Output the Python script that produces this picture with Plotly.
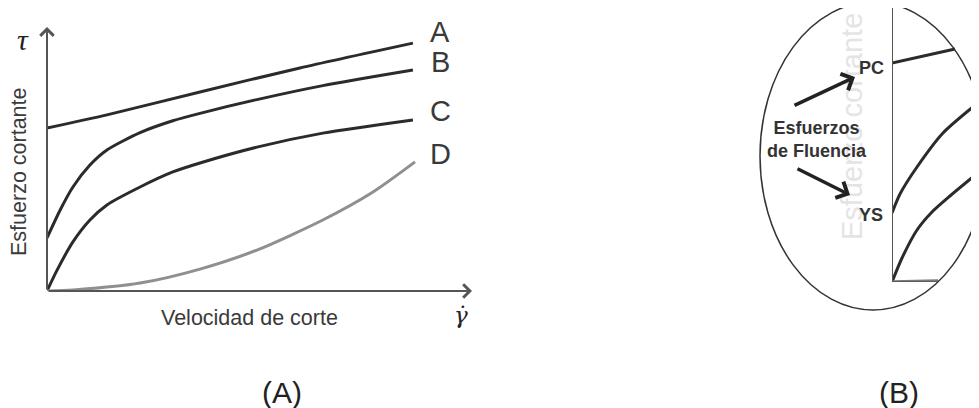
import plotly.graph_objects as go

# ---- panel (A): flow curves, shear rate vs shear stress (arbitrary units 0-100)
names = ['A', 'B', 'C', 'D']

a_x = [0, 14.1, 36, 59.5, 86.1]
a_y = [61.7, 66.7, 75.4, 84.5, 93.9]

b_x = [0, 3.1, 6.1, 10.1, 14.1, 21.9, 29.6, 36, 49.4, 64.9, 86.1]
b_y = [20.1, 30.7, 39.4, 47.7, 53.4, 60.0, 64.5, 67.3, 72.5, 77.8, 83.7]

c_x = [0, 2.4, 6.1, 10.1, 14.1, 21.9, 29.6, 36, 49.4, 64.9, 86.1]
c_y = [0, 8.0, 18.6, 26.9, 32.6, 39.4, 45.1, 48.5, 54.5, 59.8, 64.8]

d_x = [0, 6.1, 21.9, 36, 49.4, 64.9, 76.7, 86.6]
d_y = [0, 0.4, 3.0, 8.3, 15.5, 26.9, 37.5, 48.9]

# ---- panel (B): zoom near the origin
pc_x = [0, 63]
pc_y = [219, 233]
ys_x = [0, 8, 25, 51, 87]
ys_y = [69, 88, 115, 149, 180]
low_x = [0, 10, 25, 40, 58, 87]
low_y = [0, 24, 52, 70, 86, 110]
flat_x = [0, 46]
flat_y = [0, 1]

OFF = 8                      # page body margin
W, H = 979 - OFF, 408 - OFF
DARK = '#2b2b2b'
GREY = '#8f8f8f'
AXIS = '#555555'
TXT = '#3a3a3a'
SANS = 'Liberation Sans, Arial, sans-serif'
SERIF = 'Liberation Serif, Times New Roman, serif'


def px_x(p):
    return (p - OFF) / W


def px_y(p):
    return 1 - (p - OFF) / H


def label(px, py, text, size, color=TXT, family=SANS, angle=0):
    return dict(x=px_x(px), y=px_y(py), xref='paper', yref='paper', text=text,
                showarrow=False, xanchor='center', yanchor='middle', textangle=angle,
                font=dict(family=family, size=size, color=color))


fig = go.Figure()

main = [(a_x, a_y, DARK), (b_x, b_y, DARK), (c_x, c_y, DARK), (d_x, d_y, GREY)]
for (xs, ys, col), nm in zip(main, names):
    fig.add_trace(go.Scatter(x=xs, y=ys, mode='lines', name=nm,
                             line=dict(color=col, width=3, shape='spline', smoothing=0.7),
                             xaxis='x', yaxis='y', cliponaxis=False))

inset = [(pc_x, pc_y, DARK, 3), (ys_x, ys_y, DARK, 3), (low_x, low_y, DARK, 3),
         (flat_x, flat_y, '#7a7a7a', 3.5)]
for xs, ys, col, w in inset:
    fig.add_trace(go.Scatter(x=xs, y=ys, mode='lines',
                             line=dict(color=col, width=w, shape='spline', smoothing=0.7),
                             xaxis='x2', yaxis='y2', cliponaxis=False))

ann = []
# axes with arrows for panel (A)
for tx, ty in [(100, 0), (0, 100)]:
    ann.append(dict(x=tx, y=ty, ax=0, ay=0, xref='x', yref='y', axref='x', ayref='y',
                    text='', showarrow=True, arrowhead=4, arrowsize=1.3, arrowwidth=2,
                    arrowcolor=AXIS, standoff=0))

# curve letters
for nm, py in zip(names, [32, 62, 111, 154]):
    ann.append(label(440, py, nm, 29))

ann.append(label(23, 40, '<i>τ</i>', 30, '#222', SERIF))
ann.append(label(461, 315, '<i>γ̇</i>', 23, '#222', 'DejaVu Serif, serif'))
ann.append(label(19, 172, 'Esfuerzo cortante', 21.5, angle=-90))
ann.append(label(249, 318, 'Velocidad de corte', 21.5))
ann.append(label(282, 392, '(A)', 30, '#222'))
ann.append(label(899, 392, '(B)', 30, '#222'))

# panel (B) texts
ann.append(label(852, 127, 'Esfuerzo cortante', 29, '#e4e4e4', angle=-90))
ann.append(label(871, 68, '<b>PC</b>', 18, '#333'))
ann.append(label(871, 215, '<b>YS</b>', 18, '#333'))
ann.append(label(817, 139, '<b>Esfuerzos<br>de Fluencia</b>', 18, '#333'))
ann.append(dict(x=px_x(855), y=px_y(77), xref='paper', yref='paper', ax=-62, ay=29,
                text='', showarrow=True, arrowhead=4, arrowsize=1, arrowwidth=3.5,
                arrowcolor='#222', standoff=0))
ann.append(dict(x=px_x(850), y=px_y(195), xref='paper', yref='paper', ax=-54, ay=-27,
                text='', showarrow=True, arrowhead=4, arrowsize=1, arrowwidth=3.5,
                arrowcolor='#222', standoff=0))

shapes = [
    dict(type='circle', xref='paper', yref='paper', x0=px_x(760), x1=px_x(986),
         y0=px_y(310), y1=px_y(2), line=dict(color='#333', width=1.5)),
    dict(type='line', xref='x2', yref='y2', x0=0, x1=0, y0=0, y1=277,
         line=dict(color=AXIS, width=2)),
    dict(type='line', xref='x2', yref='y2', x0=0, x1=46, y0=0, y1=0,
         line=dict(color=AXIS, width=1.5)),
]

hidden = dict(visible=False, fixedrange=True)
fig.update_layout(
    width=W, height=H,
    margin=dict(l=0, r=0, t=0, b=0),
    paper_bgcolor='white', plot_bgcolor='rgba(0,0,0,0)',
    showlegend=False,
    xaxis=dict(domain=[px_x(47), px_x(472)], range=[0, 100], **hidden),
    yaxis=dict(domain=[px_y(291), px_y(27)], range=[0, 100], **hidden),
    xaxis2=dict(domain=[px_x(892), 1], range=[0, 87], anchor='y2', **hidden),
    yaxis2=dict(domain=[px_y(282), px_y(OFF)], range=[0, 274], anchor='x2', **hidden),
    annotations=ann,
    shapes=shapes,
)

fig.write_html("out.html")
